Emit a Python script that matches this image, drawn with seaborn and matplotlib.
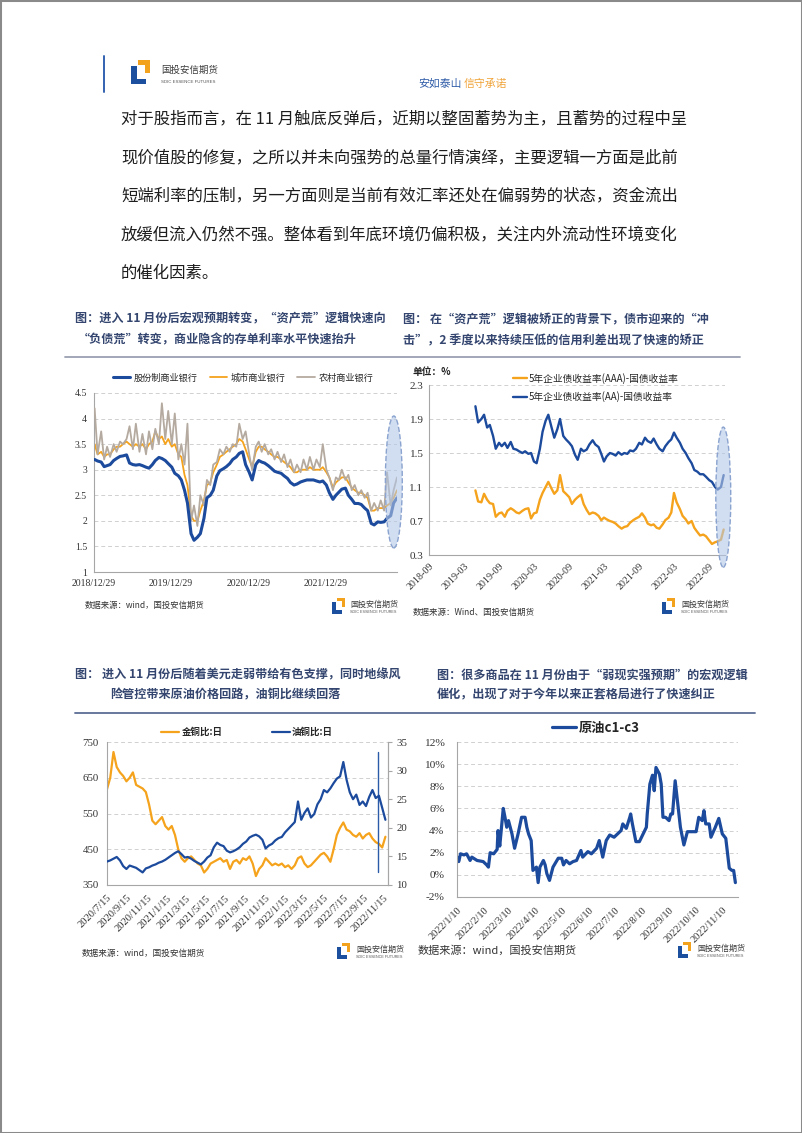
import numpy as np
import pandas as pd
import matplotlib
matplotlib.use('Agg')
import matplotlib.pyplot as plt
import matplotlib.dates as mdates
from matplotlib.patches import Rectangle, Ellipse
from matplotlib.lines import Line2D
from matplotlib.ticker import FuncFormatter
import seaborn as sns

W, H = 802, 1133

# ---------------------------------------------------------------- texts
body_lines = [
    "对于股指而言，在 11 月触底反弹后，近期以整固蓄势为主，且蓄势的过程中呈",
    "现价值股的修复，之所以并未向强势的总量行情演绎，主要逻辑一方面是此前",
    "短端利率的压制，另一方面则是当前有效汇率还处在偏弱势的状态，资金流出",
    "放缓但流入仍然不强。整体看到年底环境仍偏积极，关注内外流动性环境变化",
    "的催化因素。",
]
title1 = ["图：进入 11 月份后宏观预期转变，“资产荒”逻辑快速向",
          "“负债荒”转变，商业隐含的存单利率水平快速抬升"]
title2 = ["图： 在“资产荒”逻辑被矫正的背景下，债市迎来的“冲",
          "击”，2 季度以来持续压低的信用利差出现了快速的矫正"]
title3 = ["图： 进入 11 月份后随着美元走弱带给有色支撑，同时地缘风",
          "险管控带来原油价格回路，油铜比继续回落"]
title4 = ["图：很多商品在 11 月份由于“弱现实强预期”的宏观逻辑",
          "催化，出现了对于今年以来正套格局进行了快速纠正"]

# ---------------------------------------------------------------- chart 1 data (semi-monthly)
c1_dates = pd.date_range('2019-01-01', periods=95, freq='SMS')
c1_names = ['股份制商业银行', '城市商业银行', '农村商业银行']
c1_joint = [3.20, 3.17, 3.15, 3.06, 3.08, 3.10, 3.18, 3.22, 3.26, 3.27,
            3.29, 3.13, 3.10, 3.09, 3.10, 3.08, 3.05, 3.03, 3.10, 3.18,
            3.24, 3.22, 3.18, 3.12, 3.05, 2.93, 2.88, 2.80, 2.60, 2.35,
            1.75, 1.62, 1.68, 1.75, 2.05, 2.45, 2.50, 2.60, 2.88, 2.98,
            3.02, 3.06, 3.12, 3.20, 3.25, 3.32, 3.35, 3.10, 2.95, 2.80,
            3.10, 3.18, 3.15, 3.13, 3.08, 3.03, 2.97, 2.95, 2.93, 2.88,
            2.83, 2.75, 2.70, 2.72, 2.76, 2.78, 2.80, 2.80, 2.80, 2.78,
            2.76, 2.78, 2.70, 2.55, 2.42, 2.50, 2.56, 2.62, 2.64, 2.50,
            2.42, 2.34, 2.34, 2.32, 2.25, 2.20, 1.95, 1.92, 1.98, 1.97,
            1.98, 2.05, 2.10, 2.35, 2.45]
c1_city = [3.50, 3.30, 3.35, 3.25, 3.30, 3.30, 3.40, 3.45, 3.45, 3.50,
           3.55, 3.50, 3.45, 3.50, 3.45, 3.50, 3.40, 3.50, 3.55, 3.75,
           3.60, 3.65, 3.50, 3.60, 3.45, 3.50, 3.30, 3.25, 2.90, 2.70,
           2.10, 2.00, 2.00, 2.20, 2.40, 2.70, 2.75, 2.95, 3.10, 3.25,
           3.30, 3.35, 3.40, 3.45, 3.50, 3.60, 3.55, 3.40, 3.20, 3.05,
           3.35, 3.45, 3.45, 3.40, 3.35, 3.30, 3.25, 3.25, 3.20, 3.15,
           3.10, 3.05, 2.95, 2.95, 3.00, 3.00, 3.00, 3.05, 3.00, 3.00,
           3.00, 3.05, 2.95, 2.85, 2.65, 2.75, 2.80, 2.85, 2.85, 2.75,
           2.65, 2.60, 2.55, 2.55, 2.50, 2.45, 2.20, 2.20, 2.25, 2.25,
           2.25, 2.30, 2.35, 2.45, 2.60]
c1_rural = [4.20, 3.30, 3.75, 3.20, 3.45, 3.25, 3.50, 3.35, 3.55, 3.50,
            3.60, 3.85, 3.40, 3.90, 3.35, 3.70, 3.30, 3.75, 3.40, 3.80,
            3.50, 4.30, 3.60, 4.15, 3.50, 4.10, 3.20, 3.50, 3.10, 3.90,
            2.00, 2.30, 1.90, 2.50, 2.30, 2.80, 2.70, 3.10, 3.15, 3.40,
            3.30, 3.45, 3.35, 3.50, 3.45, 3.90, 3.60, 3.75, 3.30, 3.00,
            3.45, 3.55, 3.35, 3.50, 3.30, 3.40, 3.20, 3.35, 3.15, 3.30,
            3.05, 3.20, 2.95, 3.10, 2.95, 3.20, 3.00, 3.25, 3.00, 3.20,
            3.05, 3.50, 3.00, 2.85, 2.60, 2.85, 2.80, 3.00, 2.80, 2.90,
            2.60, 2.70, 2.50, 2.60, 2.45, 2.55, 2.20, 2.35, 2.20, 2.40,
            2.20, 2.95, 2.30, 2.60, 2.85]
c1_yticks = [1, 1.5, 2, 2.5, 3, 3.5, 4, 4.5]
c1_xticks = ['2018-12-29', '2019-12-29', '2020-12-29', '2021-12-29']
c1_xlabels = ['2018/12/29', '2019/12/29', '2020/12/29', '2021/12/29']

# ---------------------------------------------------------------- chart 2 data (semi-monthly)
c2_dates = pd.date_range('2019-05-01', periods=86, freq='SMS')
c2_names = ['5年企业债收益率(AAA)-国债收益率', '5年企业债收益率(AA)-国债收益率']
c2_aaa = [1.06, 0.93, 0.92, 1.02, 0.95, 0.91, 0.90, 0.75, 0.79, 0.80,
          0.75, 0.82, 0.85, 0.83, 0.80, 0.79, 0.82, 0.84, 0.85, 0.73,
          0.79, 0.80, 0.95, 1.03, 1.10, 1.16, 1.08, 1.02, 1.06, 1.24,
          1.05, 1.02, 0.98, 0.90, 0.95, 0.98, 1.01, 0.90, 0.83, 0.78,
          0.80, 0.79, 0.76, 0.71, 0.74, 0.72, 0.70, 0.69, 0.67, 0.64,
          0.61, 0.63, 0.64, 0.68, 0.71, 0.73, 0.75, 0.79, 0.74, 0.67,
          0.65, 0.66, 0.62, 0.61, 0.66, 0.71, 0.74, 0.80, 1.03, 0.92,
          0.84, 0.76, 0.72, 0.67, 0.70, 0.62, 0.57, 0.53, 0.54, 0.52,
          0.47, 0.43, 0.45, 0.46, 0.48, 0.60]
c2_aa = [2.05, 1.86, 1.90, 1.95, 1.80, 1.83, 1.70, 1.55, 1.62, 1.58,
         1.62, 1.56, 1.63, 1.55, 1.54, 1.52, 1.50, 1.52, 1.49, 1.50,
         1.40, 1.38, 1.55, 1.75, 1.88, 1.95, 1.80, 1.68, 1.78, 1.90,
         1.70, 1.66, 1.62, 1.58, 1.48, 1.42, 1.55, 1.52, 1.54, 1.60,
         1.65, 1.60, 1.57, 1.49, 1.40, 1.46, 1.50, 1.49, 1.47, 1.51,
         1.48, 1.50, 1.49, 1.53, 1.52, 1.55, 1.62, 1.60, 1.68, 1.64,
         1.62, 1.67, 1.60, 1.55, 1.52, 1.58, 1.63, 1.66, 1.74, 1.68,
         1.62, 1.55, 1.50, 1.44, 1.38, 1.30, 1.28, 1.25, 1.25, 1.22,
         1.18, 1.16, 1.10, 1.07, 1.10, 1.24]
c2_yticks = [0.3, 0.7, 1.1, 1.5, 1.9, 2.3]
c2_xticks = ['2018-09-01', '2019-03-01', '2019-09-01', '2020-03-01', '2020-09-01',
             '2021-03-01', '2021-09-01', '2022-03-01', '2022-09-01']
c2_xlabels = ['2018-09', '2019-03', '2019-09', '2020-03', '2020-09',
              '2021-03', '2021-09', '2022-03', '2022-09']

# ---------------------------------------------------------------- chart 3 data (every 10 days)
c3_dates = pd.date_range('2020-07-15', periods=87, freq='10D')
c3_names = ['金铜比:日', '油铜比:日']
c3_gold = [618, 650, 722, 680, 665, 655, 640, 650, 665, 630,
           625, 620, 610, 575, 530, 520, 530, 540, 515, 505,
           515, 490, 450, 425, 415, 425, 430, 420, 410, 405,
           385, 395, 410, 415, 420, 425, 415, 420, 395, 415,
           420, 410, 425, 420, 430, 410, 375, 395, 405, 425,
           415, 405, 410, 405, 410, 400, 405, 395, 405, 425,
           430, 410, 400, 405, 415, 425, 435, 440, 430, 415,
           450, 490, 510, 525, 505, 500, 490, 485, 495, 480,
           490, 495, 480, 470, 465, 455, 485]
c3_oil = [14.1, 14.3, 14.6, 14.9, 14.3, 13.3, 12.8, 13.4, 13.2, 13.0,
          12.6, 12.2, 12.9, 13.1, 13.4, 13.6, 13.9, 14.1, 14.4, 14.8,
          15.2, 15.6, 15.9, 15.4, 14.8, 14.9, 14.6, 14.2, 13.9, 13.6,
          14.1, 14.8, 15.2, 16.6, 17.4, 17.0, 16.8, 16.0, 15.7, 15.9,
          16.2, 16.6, 17.2, 17.6, 18.3, 18.6, 18.8, 18.5, 17.9, 16.4,
          16.9, 17.2, 17.8, 18.2, 18.4, 19.2, 19.8, 20.4, 21.0, 24.6,
          21.4, 22.6, 23.4, 21.8, 22.4, 24.1, 25.0, 26.6, 26.2, 26.9,
          27.8, 28.6, 29.0, 31.5, 28.4, 26.2, 25.0, 25.8, 24.0, 24.6,
          23.8, 25.4, 26.6, 25.2, 25.6, 23.5, 21.4]
c3_yticks_left = [350, 450, 550, 650, 750]
c3_yticks_right = [10, 15, 20, 25, 30, 35]
c3_xticks = ['2020-07-15', '2020-09-15', '2020-11-15', '2021-01-15', '2021-03-15',
             '2021-05-15', '2021-07-15', '2021-09-15', '2021-11-15', '2022-01-15',
             '2022-03-15', '2022-05-15', '2022-07-15', '2022-09-15', '2022-11-15']
c3_xlabels = ['2020/7/15', '2020/9/15', '2020/11/15', '2021/1/15', '2021/3/15',
              '2021/5/15', '2021/7/15', '2021/9/15', '2021/11/15', '2022/1/15',
              '2022/3/15', '2022/5/15', '2022/7/15', '2022/9/15', '2022/11/15']

# ---------------------------------------------------------------- chart 4 data
c4_name = '原油c1-c3'
c4_dates = ['2022-01-10', '2022-01-12', '2022-01-14', '2022-01-18', '2022-01-21', '2022-01-25', '2022-01-27',
            '2022-02-02', '2022-02-09', '2022-02-13', '2022-02-15', '2022-02-17', '2022-02-21', '2022-02-25',
            '2022-02-26', '2022-02-28',
            '2022-03-04', '2022-03-06', '2022-03-08', '2022-03-10', '2022-03-14', '2022-03-17', '2022-03-21',
            '2022-03-25', '2022-03-29', '2022-03-31',
            '2022-04-02', '2022-04-05', '2022-04-07', '2022-04-11', '2022-04-13', '2022-04-15', '2022-04-19',
            '2022-04-21', '2022-04-23', '2022-04-26', '2022-04-30',
            '2022-05-06', '2022-05-10', '2022-05-12', '2022-05-15', '2022-05-19', '2022-05-23', '2022-05-27',
            '2022-06-01', '2022-06-03', '2022-06-09', '2022-06-13', '2022-06-19', '2022-06-22', '2022-06-26',
            '2022-06-30',
            '2022-07-04', '2022-07-09', '2022-07-13', '2022-07-17', '2022-07-19', '2022-07-23', '2022-07-27',
            '2022-07-28', '2022-07-30',
            '2022-08-03', '2022-08-07', '2022-08-15', '2022-08-16', '2022-08-19', '2022-08-22', '2022-08-24',
            '2022-08-26', '2022-08-30',
            '2022-09-01', '2022-09-03', '2022-09-06', '2022-09-10', '2022-09-12', '2022-09-14', '2022-09-17',
            '2022-09-20', '2022-09-23', '2022-09-27',
            '2022-10-01', '2022-10-11', '2022-10-14', '2022-10-18', '2022-10-20', '2022-10-22', '2022-10-26',
            '2022-10-28',
            '2022-11-02', '2022-11-06', '2022-11-10', '2022-11-14', '2022-11-18', '2022-11-21', '2022-11-23',
            '2022-11-25']
c4_vals = [1.6, 1.2, 1.9, 1.8, 1.9, 1.3, 1.6,
           1.3, 1.2, 0.9, 0.7, 2.0, 1.9, 2.3, 4.0, 2.6,
           6.0, 5.2, 4.3, 4.9, 3.7, 2.4, 3.7, 5.2, 5.2, 4.3,
           3.7, 3.1, 0.4, 0.7, -0.7, 0.7, 1.3, 0.9, 0.1, -0.5, 0.7,
           1.5, 1.5, 0.9, 1.3, 1.0, 1.2, 1.3,
           2.2, 1.6, 2.1, 1.9, 2.4, 3.1, 1.6, 3.1,
           3.6, 3.4, 3.7, 4.0, 4.6, 4.2, 5.2, 5.5, 4.6,
           3.0, 3.0, 4.3, 5.5, 8.2, 9.0, 7.6, 9.7, 9.1,
           8.2, 5.2, 5.2, 4.9, 5.5, 5.5, 8.5, 6.4, 4.3, 2.7,
           3.9, 3.9, 5.2, 4.9, 5.8, 4.6, 4.6, 3.4,
           4.3, 5.1, 3.7, 3.3, 0.6, 0.4, 0.4, -0.7]
c4_yticks = [-2, 0, 2, 4, 6, 8, 10, 12]
c4_xticks = ['2022-01-10', '2022-02-10', '2022-03-10', '2022-04-10', '2022-05-10', '2022-06-10',
             '2022-07-10', '2022-08-10', '2022-09-10', '2022-10-10', '2022-11-10']
c4_xlabels = ['2022/1/10', '2022/2/10', '2022/3/10', '2022/4/10', '2022/5/10', '2022/6/10',
              '2022/7/10', '2022/8/10', '2022/9/10', '2022/10/10', '2022/11/10']

# ---------------------------------------------------------------- style
sns.set_theme(style='white')
plt.rcParams['font.family'] = ['Noto Sans CJK SC', 'DejaVu Sans']
plt.rcParams['axes.unicode_minus'] = False

BLUE = '#1c4a9c'
ORANGE = '#f5a31c'
GRAY = '#b5aa9f'
TITLE_C = '#34466f'
SPINE = '#a6a6a6'
GRID = '#d0d0d0'
SERIF = 'Liberation Serif'
LOGO_BLUE = '#1d4f9f'
LOGO_OR = '#f3a21e'

fig = plt.figure(figsize=(W / 100, H / 100), dpi=100)
fig.patch.set_facecolor('white')


def R(x0, y0, x1, y1):
    return [x0 / W, 1 - y1 / H, (x1 - x0) / W, (y1 - y0) / H]


def T(x, y, s, **kw):
    kw.setdefault('va', 'center')
    kw.setdefault('ha', 'left')
    return fig.text(x / W, 1 - y / H, s, **kw)


def HL(x0, x1, y, color, lw):
    fig.add_artist(Line2D([x0 / W, x1 / W], [1 - y / H, 1 - y / H], color=color, lw=lw,
                          transform=fig.transFigure))


def box(x0, y0, x1, y1, color):
    fig.add_artist(Rectangle((x0 / W, 1 - y1 / H), (x1 - x0) / W, (y1 - y0) / H,
                             transform=fig.transFigure, facecolor=color, edgecolor='none'))


def logo(x, y, h, fs, fs2, dx):
    box(x + 0.30 * h, y, x + 0.80 * h, y + 0.20 * h, LOGO_OR)
    box(x + 0.60 * h, y, x + 0.80 * h, y + 0.55 * h, LOGO_OR)
    box(x, y + 0.25 * h, x + 0.24 * h, y + h, LOGO_BLUE)
    box(x, y + 0.78 * h, x + 0.62 * h, y + h, LOGO_BLUE)
    T(x + dx, y + 0.42 * h, '国投安信期货', fontsize=fs, color='#3a3a3a')
    T(x + dx, y + 0.90 * h, 'SDIC ESSENCE FUTURES', fontsize=fs2, color='#555555',
      family='Liberation Sans')


def style_axes(ax, left=True, right=False, bottom=True):
    for side, vis in (('left', left), ('right', right), ('bottom', bottom), ('top', False)):
        ax.spines[side].set_visible(vis)
        ax.spines[side].set_color(SPINE)
        ax.spines[side].set_linewidth(0.8)
    ax.set_xlabel('')
    ax.set_ylabel('')


def rotate_labels(ax):
    for lab in ax.get_xticklabels():
        lab.set_rotation(45)
        lab.set_ha('right')
        lab.set_va('top')
        lab.set_rotation_mode('anchor')


def fmt_g(v, pos):
    return f'{v:g}'


# ---------------------------------------------------------------- page frame & header
fig.add_artist(Rectangle((0, 0), 1, 1, transform=fig.transFigure, fill=False,
                         edgecolor='#8a8a8a', lw=2.2))
fig.add_artist(Line2D([104 / W, 104 / W], [1 - 56 / H, 1 - 92 / H], color='#3462b0', lw=1.4,
                      transform=fig.transFigure))
logo(131, 60, 24, 6.8, 3.2, 30)
T(418, 84, '安如泰山', fontsize=7.8, color='#2f5ca8')
T(464, 84, '信守承诺', fontsize=7.8, color='#f0a43a')

for i, line in enumerate(body_lines):
    T(121, 119 + 38.5 * i, line, fontsize=11.8, color='#1e1e1e')

# titles & separators
for i, t in enumerate(title1):
    T(75 if i == 0 else 78, 318 + 22 * i, t, fontsize=8.7, weight='bold', color=TITLE_C)
for i, t in enumerate(title2):
    T(403, 320 + 21 * i, t, fontsize=8.7, weight='bold', color=TITLE_C)
for i, t in enumerate(title3):
    T(75 if i == 0 else 110, 675 + 20 * i, t, fontsize=8.7, weight='bold', color=TITLE_C)
for i, t in enumerate(title4):
    T(437, 675 + 20 * i, t, fontsize=8.7, weight='bold', color=TITLE_C)
HL(65, 740, 357, '#9aa0b2', 1.3)
HL(75, 755, 713, '#5a6d95', 1.3)

# ---------------------------------------------------------------- chart 1
ax1 = fig.add_axes(R(94, 393, 397, 572))
sns.lineplot(x=c1_dates, y=c1_joint, ax=ax1, color=BLUE, lw=2.2, label=c1_names[0], zorder=4)
sns.lineplot(x=c1_dates, y=c1_city, ax=ax1, color=ORANGE, lw=1.3, label=c1_names[1], zorder=2)
sns.lineplot(x=c1_dates, y=c1_rural, ax=ax1, color=GRAY, lw=1.3, label=c1_names[2], zorder=3)
ax1.set_xlim(pd.Timestamp('2018-12-29'), pd.Timestamp('2022-12-01'))
ax1.set_ylim(1, 4.5)
ax1.set_yticks(c1_yticks)
ax1.yaxis.set_major_formatter(FuncFormatter(fmt_g))
ax1.set_xticks(pd.to_datetime(c1_xticks), c1_xlabels)
ax1.grid(False)
ax1.yaxis.grid(True, ls=(0, (4, 3)), color=GRID, lw=0.7)
style_axes(ax1)
ax1.tick_params(axis='x', direction='in', length=4, width=0.8, color=SPINE, pad=5,
                labelsize=7, labelfontfamily=SERIF, labelcolor='#333333')
ax1.tick_params(axis='y', length=0, pad=5, labelsize=7, labelfontfamily=SERIF, labelcolor='#333333')
ax1.legend(loc='center', bbox_to_anchor=(243 / W, 1 - 378 / H), bbox_transform=fig.transFigure,
           ncol=3, frameon=False, fontsize=6.6, handlelength=1.9, handletextpad=0.4,
           columnspacing=1.3, borderpad=0, borderaxespad=0)
ax1.add_patch(Ellipse((mdates.date2num(pd.Timestamp('2022-11-16')), 2.76), width=80, height=2.58,
                      facecolor=(0.70, 0.78, 0.90, 0.6), edgecolor='#8aa3cf', ls='--', lw=1.0,
                      clip_on=False, zorder=6))
T(85, 605, '数据来源：wind，国投安信期货', fontsize=6.0, color='#333333')
logo(332, 598, 16, 5.8, 2.7, 18)

# ---------------------------------------------------------------- chart 2
ax2 = fig.add_axes(R(429, 385, 725, 555))
sns.lineplot(x=c2_dates, y=c2_aaa, ax=ax2, color=ORANGE, lw=1.7, label=c2_names[0])
sns.lineplot(x=c2_dates, y=c2_aa, ax=ax2, color=BLUE, lw=1.7, label=c2_names[1])
ax2.set_xlim(pd.Timestamp('2018-09-01'), pd.Timestamp('2022-11-22'))
ax2.set_ylim(0.3, 2.3)
ax2.set_yticks(c2_yticks)
ax2.yaxis.set_major_formatter(FuncFormatter(fmt_g))
ax2.set_xticks(pd.to_datetime(c2_xticks), c2_xlabels)
ax2.grid(False)
ax2.yaxis.grid(True, ls=(0, (4, 3)), color=GRID, lw=0.7)
style_axes(ax2)
ax2.tick_params(axis='x', direction='out', length=3, width=0.8, color=SPINE, pad=2,
                labelsize=7.2, labelfontfamily=SERIF, labelcolor='#333333')
ax2.tick_params(axis='y', direction='out', length=3, width=0.8, color=SPINE, pad=1,
                labelsize=8, labelfontfamily=SERIF, labelcolor='#333333')
rotate_labels(ax2)
ax2.legend(loc='upper left', bbox_to_anchor=(513 / W, 1 - 373 / H), bbox_transform=fig.transFigure,
           frameon=False, fontsize=7, handlelength=1.45, handletextpad=0.15, labelspacing=0.75,
           borderpad=0, borderaxespad=0)
ax2.add_patch(Ellipse((mdates.date2num(pd.Timestamp('2022-11-13')), 0.98), width=78, height=1.65,
                      facecolor=(0.70, 0.78, 0.90, 0.6), edgecolor='#8aa3cf', ls='--', lw=1.0,
                      clip_on=False, zorder=6))
T(413, 372, '单位：%', fontsize=7, color='#222222', weight='bold')
T(413, 612, '数据来源：Wind、国投安信期货', fontsize=6.1, color='#333333')
logo(662, 598, 16, 5.8, 2.7, 19)

# ---------------------------------------------------------------- chart 3
ax3 = fig.add_axes(R(107, 742, 388, 885))
ax3b = ax3.twinx()
sns.lineplot(x=c3_dates, y=c3_gold, ax=ax3, color=ORANGE, lw=1.6, label=c3_names[0])
sns.lineplot(x=c3_dates, y=c3_oil, ax=ax3b, color=BLUE, lw=1.6, label=c3_names[1])
ax3.set_xlim(pd.Timestamp('2020-07-15'), pd.Timestamp('2022-11-30'))
ax3.set_ylim(350, 750)
ax3b.set_ylim(10, 35)
ax3.set_yticks(c3_yticks_left)
ax3b.set_yticks(c3_yticks_right)
ax3.set_xticks(pd.to_datetime(c3_xticks), c3_xlabels)
ax3.grid(False)
ax3b.grid(False)
ax3.yaxis.grid(True, ls=(0, (4, 3)), color=GRID, lw=0.7)
style_axes(ax3, right=True)
style_axes(ax3b, left=False, right=True)
ax3b.spines['bottom'].set_visible(False)
ax3.tick_params(axis='x', direction='out', length=3, width=0.8, color=SPINE, pad=3,
                labelsize=7.6, labelfontfamily=SERIF, labelcolor='#333333')
ax3.tick_params(axis='y', length=0, pad=6, labelsize=7.8, labelfontfamily=SERIF, labelcolor='#333333')
ax3b.tick_params(axis='y', direction='out', length=3, width=0.8, color=SPINE, pad=3,
                 labelsize=7.8, labelfontfamily=SERIF, labelcolor='#333333')
rotate_labels(ax3)
ax3.axvline(pd.Timestamp('2022-10-30'), ymin=0.09, ymax=0.93, color='#2a5aa8', lw=1.0)
h1, l1 = ax3.get_legend_handles_labels()
h2, l2 = ax3b.get_legend_handles_labels()
if ax3b.get_legend() is not None:
    ax3b.get_legend().remove()
ax3.legend(h1 + h2, l1 + l2, loc='center', bbox_to_anchor=(247 / W, 1 - 732 / H),
           bbox_transform=fig.transFigure, ncol=2, frameon=False,
           handlelength=1.9, handletextpad=0.25, columnspacing=5.2, borderpad=0, borderaxespad=0,
           prop={'weight': 'bold', 'size': 6.8})
T(82, 953, '数据来源：wind，国投安信期货', fontsize=6.2, color='#333333')
logo(337, 943, 16, 5.8, 2.7, 19)

# ---------------------------------------------------------------- chart 4
ax4 = fig.add_axes(R(457, 742, 738, 897))
sns.lineplot(x=pd.to_datetime(c4_dates), y=c4_vals, ax=ax4, color=BLUE, lw=2.3, label=c4_name)
ax4.set_xlim(pd.Timestamp('2022-01-10'), pd.Timestamp('2022-11-28'))
ax4.set_ylim(-2, 12)
ax4.set_yticks(c4_yticks)
ax4.yaxis.set_major_formatter(FuncFormatter(lambda v, p: f'{v:.0f}%'))
ax4.set_xticks(pd.to_datetime(c4_xticks), c4_xlabels)
ax4.grid(False)
ax4.yaxis.grid(True, ls=(0, (4, 3)), color=GRID, lw=0.7)
style_axes(ax4)
ax4.tick_params(axis='x', direction='out', length=3, width=0.8, color=SPINE, pad=3,
                labelsize=7.4, labelfontfamily=SERIF, labelcolor='#333333')
ax4.tick_params(axis='y', direction='out', length=3, width=0.8, color=SPINE, pad=6,
                labelsize=8.2, labelfontfamily=SERIF, labelcolor='#333333')
rotate_labels(ax4)
ax4.legend(loc='center', bbox_to_anchor=(596 / W, 1 - 728 / H), bbox_transform=fig.transFigure,
           frameon=False, handlelength=1.85, handletextpad=0.2, borderpad=0, borderaxespad=0,
           prop={'weight': 'bold', 'size': 9.5})
T(418, 950, '数据来源：wind，国投安信期货', fontsize=8, color='#333333')
logo(678, 942, 16, 5.8, 2.7, 19)

fig.savefig('out.png', dpi=100, facecolor='white')
